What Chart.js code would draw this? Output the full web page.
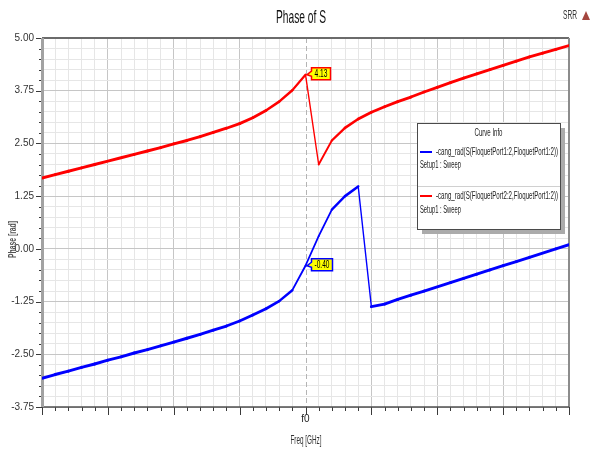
<!DOCTYPE html>
<html>
<head>
<meta charset="utf-8">
<script src="https://cdn.jsdelivr.net/npm/chart.js@4.4.0/dist/chart.umd.min.js"></script>
<style>
  html, body { margin: 0; padding: 0; background: #fff; }
  #wrap { width: 592px; height: 451px; }
</style>
</head>
<body>
<div id="wrap"><canvas id="phase-chart" width="592" height="451"></canvas></div>
<script>
// sweep points (f0 is step 20)
const freqSteps = [0, 1, 2, 3, 4, 5, 6, 7, 8, 9, 10, 11, 12, 13, 14, 15, 16, 17, 18, 19, 20,
  21, 22, 23, 24, 25, 26, 27, 28, 29, 30, 31, 32, 33, 34, 35, 36, 37, 38, 39, 40];
const f0Step = 20;

// -cang_rad(S(FloquetPort2:2,FloquetPort1:2))  (red)
const phasePort2 = [1.68, 1.76, 1.84, 1.92, 2.00, 2.08, 2.16, 2.24, 2.32, 2.40, 2.49,
  2.57, 2.66, 2.76, 2.86, 2.97, 3.11, 3.28, 3.49, 3.76, 4.13,
  2.00, 2.57, 2.87, 3.08, 3.24, 3.37, 3.49, 3.60, 3.72, 3.83,
  3.94, 4.05, 4.15, 4.25, 4.35, 4.45, 4.55, 4.64, 4.73, 4.82];

// -cang_rad(S(FloquetPort1:2,FloquetPort1:2))  (blue)
const phasePort1 = [-3.07, -2.98, -2.90, -2.81, -2.73, -2.64, -2.56, -2.47, -2.39, -2.30, -2.21,
  -2.12, -2.03, -1.93, -1.83, -1.71, -1.57, -1.42, -1.24, -0.98, -0.40,
  0.30, 0.93, 1.25, 1.48, -1.37, -1.31, -1.20, -1.10, -1.00, -0.90,
  -0.80, -0.70, -0.60, -0.50, -0.40, -0.30, -0.20, -0.10, 0.00, 0.10];

const yMajorTicks = [-3.75, -2.50, -1.25, 0.00, 1.25, 2.50, 3.75, 5.00];
const xTickLabel = 'f0';
const labelPort1 = '-cang_rad(S(FloquetPort1:2,FloquetPort1:2))';
const labelPort2 = '-cang_rad(S(FloquetPort2:2,FloquetPort1:2))';
const setupLabel = 'Setup1 : Sweep';

const tickFont = { family: "'Liberation Sans Narrow', 'Liberation Sans', Arial, sans-serif", size: 10 };
const minorGrid = '#e6e6e6';
const majorGrid = '#c6c6c6';

const isMajorY = v => yMajorTicks.some(m => Math.abs(m - v) < 1e-6);

// the original screenshot is squeezed sideways, so text gets fitted to a width
function squeezeText(ctx, text, x, y, width, font, color, align) {
  ctx.save();
  ctx.font = font;
  const k = width / ctx.measureText(text).width;
  ctx.translate(x, y);
  ctx.scale(k, 1);
  ctx.fillStyle = color;
  ctx.textBaseline = 'middle';
  ctx.textAlign = align || 'left';
  ctx.fillText(text, 0, 0);
  ctx.restore();
}

// steep segments look thinner in the squeezed picture
const segWidth = (c) => {
  const dx = c.p1.x - c.p0.x, dy = c.p1.y - c.p0.y;
  const len = Math.sqrt(dx * dx + dy * dy) || 1;
  return 3 * Math.sqrt(dx * dx + 0.2 * dy * dy) / len;
};

const frameAndMarks = {
  id: 'frameAndMarks',
  beforeDatasetsDraw(chart) {
    const { ctx, chartArea: a, scales: { x, y } } = chart;
    ctx.save();
    // f0 marker line
    const fx = Math.round(x.getPixelForValue(f0Step)) + 0.5;
    ctx.strokeStyle = '#b4b4b4';
    ctx.lineWidth = 1;
    ctx.setLineDash([5, 3]);
    ctx.beginPath();
    ctx.moveTo(fx, a.top);
    ctx.lineTo(fx, a.bottom);
    ctx.stroke();
    ctx.setLineDash([]);

    // tick marks
    ctx.strokeStyle = '#3a3a3a';
    ctx.lineWidth = 1;
    y.ticks.forEach(t => {
      const py = Math.round(y.getPixelForValue(t.value)) + 0.5;
      const len = isMajorY(t.value) ? 6 : 3;
      ctx.beginPath();
      ctx.moveTo(a.left - len, py);
      ctx.lineTo(a.left, py);
      ctx.stroke();
    });
    x.ticks.forEach(t => {
      const px = Math.round(x.getPixelForValue(t.value)) + 0.5;
      const len = t.value % 5 === 0 ? 8 : 4;
      ctx.beginPath();
      ctx.moveTo(px, a.bottom);
      ctx.lineTo(px, a.bottom + len);
      ctx.stroke();
    });

    // frame
    ctx.lineWidth = 2;
    ctx.strokeStyle = '#6b6b6b';
    ctx.beginPath(); ctx.moveTo(a.left, a.top); ctx.lineTo(a.right, a.top); ctx.stroke();
    ctx.strokeStyle = '#8c8c8c';
    ctx.beginPath(); ctx.moveTo(a.right, a.top); ctx.lineTo(a.right, a.bottom); ctx.stroke();
    ctx.strokeStyle = '#505050';
    ctx.lineWidth = 1.5;
    ctx.beginPath(); ctx.moveTo(a.left, a.bottom); ctx.lineTo(a.right, a.bottom); ctx.stroke();
    ctx.strokeStyle = '#a2a2a2';
    ctx.lineWidth = 3;
    ctx.beginPath(); ctx.moveTo(a.left + 0.5, a.top); ctx.lineTo(a.left + 0.5, a.bottom); ctx.stroke();
    ctx.restore();
  },
  afterDatasetsDraw(chart) {
    const { ctx, scales: { x, y } } = chart;
    const i0 = freqSteps.indexOf(f0Step);

    // value markers at f0
    const marker = (val, color, textWidth) => {
      const px = x.getPixelForValue(f0Step);
      const py = y.getPixelForValue(val);
      const L = px + 6, R = L + textWidth + 6, cy = py - 1;
      const T = cy - 6, B = cy + 6;
      ctx.save();
      ctx.beginPath();
      ctx.moveTo(L, T);
      ctx.lineTo(R, T);
      ctx.lineTo(R, B);
      ctx.lineTo(L, B);
      ctx.lineTo(L, cy + 2.5);
      ctx.lineTo(px + 1.5, py);
      ctx.lineTo(L, cy - 2.5);
      ctx.closePath();
      ctx.fillStyle = '#ffff00';
      ctx.fill();
      ctx.strokeStyle = color;
      ctx.lineWidth = 1.5;
      ctx.stroke();
      ctx.restore();
      squeezeText(ctx, val.toFixed(2), (L + R) / 2, cy + 0.5, textWidth, '11px "Liberation Sans", Arial, sans-serif', '#000', 'center');
    };
    marker(phasePort2[i0], '#ff0000', 13);
    marker(phasePort1[i0], '#0000ff', 15);

    // curve info box
    const bx = 417, by = 123, bw = 143, bh = 106;
    ctx.save();
    ctx.fillStyle = '#ababab';
    ctx.fillRect(bx + 5, by + 5, bw, bh);
    ctx.fillStyle = '#ffffff';
    ctx.fillRect(bx, by, bw, bh);
    ctx.strokeStyle = '#4a4a4a';
    ctx.lineWidth = 1;
    ctx.strokeRect(bx + 0.5, by + 0.5, bw, bh);
    ctx.strokeStyle = '#d0d0d0';
    ctx.beginPath(); ctx.moveTo(bx + 1, 186.5); ctx.lineTo(bx + bw, 186.5); ctx.stroke();
    ctx.lineWidth = 2;
    ctx.strokeStyle = '#0000ff';
    ctx.beginPath(); ctx.moveTo(420, 152); ctx.lineTo(432, 152); ctx.stroke();
    ctx.strokeStyle = '#ff0000';
    ctx.beginPath(); ctx.moveTo(420, 196); ctx.lineTo(432, 196); ctx.stroke();
    ctx.restore();
    const lf = '10px "Liberation Sans", Arial, sans-serif';
    squeezeText(ctx, 'Curve Info', bx + bw / 2, 133, 28, lf, '#222', 'center');
    squeezeText(ctx, chart.data.datasets[0].label, 436, 152, 122, lf, '#222');
    squeezeText(ctx, setupLabel, 420, 165, 41, lf, '#222');
    squeezeText(ctx, chart.data.datasets[1].label, 436, 196, 122, lf, '#222');
    squeezeText(ctx, setupLabel, 420, 210, 41, lf, '#222');
  },
  afterDraw(chart) {
    const { ctx, chartArea: a } = chart;
    squeezeText(ctx, 'Phase of S', 301, 18, 50, '19px "Liberation Sans", Arial, sans-serif', '#111', 'center');
    squeezeText(ctx, 'SRR', 563, 16, 14, '12px "Liberation Sans", Arial, sans-serif', '#333');
    ctx.save();
    ctx.fillStyle = '#a4463e';
    ctx.beginPath();
    ctx.moveTo(586, 11); ctx.lineTo(590, 20); ctx.lineTo(582, 20);
    ctx.closePath();
    ctx.fill();
    ctx.restore();
    squeezeText(ctx, 'Freq [GHz]', (a.left + a.right) / 2 + 0.5, 441, 31, '12px "Liberation Sans", Arial, sans-serif', '#333', 'center');
    ctx.save();
    ctx.translate(13.5, 239.5);
    ctx.rotate(-Math.PI / 2);
    squeezeText(ctx, 'Phase [rad]', 0, 0, 37, 'bold 10px "Liberation Sans", Arial, sans-serif', '#555', 'center');
    ctx.restore();
  }
};

const toPoints = vals => freqSteps.map((f, i) => ({ x: f, y: vals[i] }));

new Chart(document.getElementById('phase-chart'), {
  type: 'line',
  data: {
    datasets: [
      { label: labelPort1, data: toPoints(phasePort1), borderColor: '#0000ff',
        pointRadius: 0, tension: 0, borderCapStyle: 'round', borderJoinStyle: 'round',
        segment: { borderWidth: segWidth } },
      { label: labelPort2, data: toPoints(phasePort2), borderColor: '#ff0000',
        pointRadius: 0, tension: 0, borderCapStyle: 'round', borderJoinStyle: 'round',
        segment: { borderWidth: segWidth } }
    ]
  },
  options: {
    responsive: false,
    animation: false,
    layout: { padding: { left: 0, right: 23, top: 38, bottom: 0 } },
    plugins: { legend: { display: false }, tooltip: { enabled: false } },
    scales: {
      x: {
        type: 'linear',
        min: 0,
        max: 40,
        afterFit: s => { s.height = 44; },
        border: { display: false },
        grid: {
          drawTicks: false,
          color: c => c.tick.value === f0Step ? 'rgba(0,0,0,0)' : (c.tick.value % 5 === 0 ? majorGrid : minorGrid)
        },
        ticks: {
          stepSize: 1,
          autoSkip: false,
          maxRotation: 0,
          padding: 6,
          font: tickFont,
          color: '#222',
          callback: v => v === f0Step ? xTickLabel : ''
        }
      },
      y: {
        min: -3.75,
        max: 5,
        afterFit: s => { s.width = 42; },
        border: { display: false },
        grid: {
          drawTicks: false,
          color: c => isMajorY(c.tick.value) ? majorGrid : minorGrid
        },
        ticks: {
          stepSize: 0.25,
          autoSkip: false,
          padding: 8,
          font: tickFont,
          color: '#333',
          callback: v => {
            if (!isMajorY(v)) return '';
            const r = Math.round(v * 100) / 100;
            return (r === 0 ? 0 : r).toFixed(2);
          }
        }
      }
    }
  },
  plugins: [frameAndMarks]
});
</script>
</body>
</html>
